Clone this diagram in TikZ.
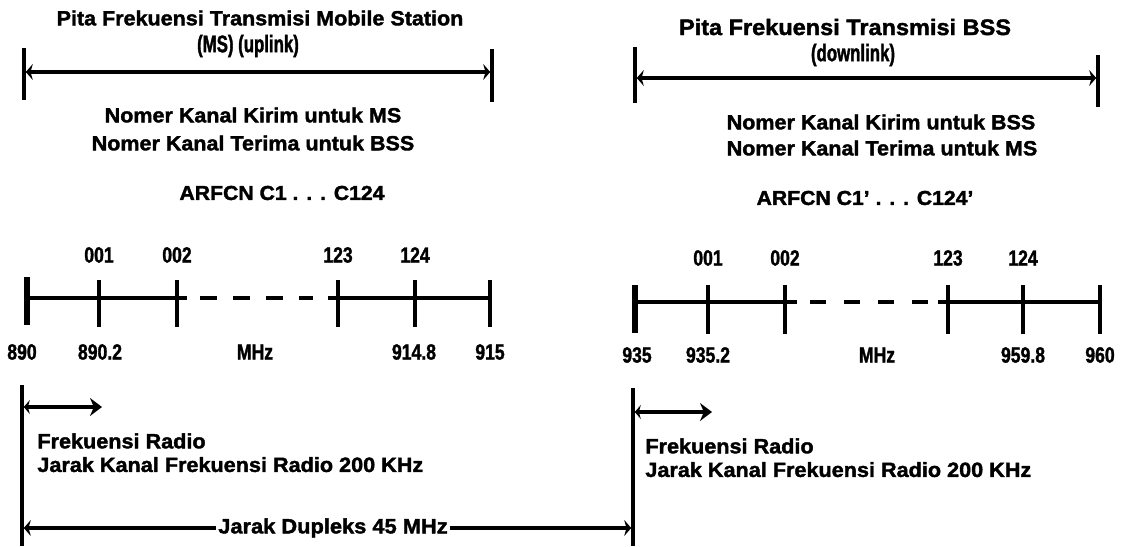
\documentclass[tikz,border=0pt]{standalone}
\usepackage{fontspec}
\setmainfont{Liberation Sans}[FakeStretch=0.8, FakeBold=1.4]
\newfontfamily\wf{Liberation Sans}[FakeStretch=1.05, FakeBold=1.8]
\newfontfamily\nf{Liberation Sans}[FakeStretch=0.7, FakeBold=1.4]
\usetikzlibrary{arrows.meta}
\begin{document}
\begin{tikzpicture}[x=0.5pt,y=-0.5pt,
  txt/.style={font=\wf\bfseries\fontsize{10.25}{12}\selectfont, inner sep=0pt},
  ttl/.style={font=\wf\bfseries\fontsize{10.25}{12}\selectfont, inner sep=0pt},
  par/.style={font=\nf\bfseries\fontsize{12}{14}\selectfont, inner sep=0pt},
  bot/.style={font=\wf\bfseries\fontsize{10.3}{11.8}\selectfont, inner sep=0pt, align=left, anchor=north west},
  arf/.style={font=\wf\bfseries\fontsize{10.1}{12}\selectfont, inner sep=0pt},
  lbl/.style={font=\bfseries\fontsize{11}{13}\selectfont, inner sep=0pt},
  axis/.style={line width=2pt},
  tick/.style={line width=1.8pt},
  bigtick/.style={line width=3.2pt},
  bar/.style={line width=1.9pt},
  tipL/.style={{Stealth[length=3.5pt,width=8pt]}-{Stealth[length=3.5pt,width=8pt]}},
  dim/.style={line width=1.7pt, tipL, shorten <=0.9pt, shorten >=0.9pt},
  small/.style={line width=1.6pt, {Stealth[length=3pt,width=7pt]}-{Stealth[length=6pt,width=9pt]}, shorten <=0.9pt},
  ]
\useasboundingbox (0,0) rectangle (1122,546);

% ---------------- left (uplink) ----------------
\node[ttl] (t1) at (260,18) {Pita Frekuensi Transmisi Mobile Station};
\node[par] (t2) at (248,46) {(MS) (uplink)};
\coordinate (lbT) at (24,48);  \coordinate (lbB) at (24,100);
\coordinate (rbT) at (492,49); \coordinate (rbB) at (492,102);
\draw[bar] (lbT) -- (lbB);
\draw[bar] (rbT) -- (rbB);
\coordinate (la) at (24,72); \coordinate (ra) at (492,72);
\draw[dim] (la) -- (ra);
\node[txt] (n1) at (253,115) {Nomer Kanal Kirim untuk MS};
\node[txt] (n2) at (253,143) {Nomer Kanal Terima untuk BSS};
\node[arf] (ar1) at (282,193) {ARFCN C1 . . . C124};

% scale
\draw[axis] (27,298) -- (187,298);
\draw[axis] (328,298) -- (490,298);
\draw[axis, dash pattern=on 8.5pt off 8pt] (200,298) -- (313,298);
\draw[bigtick] (27,277) -- (27,325);
\foreach \x in {99,177,338,415,490} \draw[tick] (\x,280) -- (\x,327);
\node[lbl] (a1) at (99,255) {001};
\node[lbl] (a2) at (177,255) {002};
\node[lbl] (a3) at (338,255) {123};
\node[lbl] (a4) at (415,255) {124};
\node[lbl] (b1) at (22,352) {890};
\node[lbl] (b2) at (100,352) {890.2};
\node[lbl] (b3) at (255,352) {MHz};
\node[lbl] (b4) at (414,352) {914.8};
\node[lbl] (b5) at (490,352) {915};

% ---------------- right (downlink) ----------------
\node[ttl, font=\wf\bfseries\fontsize{11.2}{13}\selectfont] (t3) at (845,27) {Pita Frekuensi Transmisi BSS};
\node[par] (t4) at (853,55) {(downlink)};
\coordinate (lb2T) at (635,47);  \coordinate (lb2B) at (635,103);
\coordinate (rb2T) at (1098,55); \coordinate (rb2B) at (1098,107);
\draw[bar] (lb2T) -- (lb2B);
\draw[bar] (rb2T) -- (rb2B);
\coordinate (la2) at (635,78); \coordinate (ra2) at (1098,78);
\draw[dim] (la2) -- (ra2);
\node[txt] (n3) at (881,122) {Nomer Kanal Kirim untuk BSS};
\node[txt] (n4) at (882,148) {Nomer Kanal Terima untuk MS};
\node[arf] (ar2) at (865,198) {ARFCN C1’ . . . C124’};

% scale
\draw[axis] (635,302) -- (797,302);
\draw[axis] (938,302) -- (1100,302);
\draw[axis, dash pattern=on 8pt off 9pt] (810,302) -- (928,302);
\draw[bigtick] (635,285) -- (635,333);
\foreach \x in {708,785,948,1023,1100} \draw[tick] (\x,285) -- (\x,334);
\node[lbl] (c1) at (708,258) {001};
\node[lbl] (c2) at (785,258) {002};
\node[lbl] (c3) at (948,258) {123};
\node[lbl] (c4) at (1023,258) {124};
\node[lbl] (d1) at (637,355) {935};
\node[lbl] (d2) at (708,355) {935.2};
\node[lbl] (d3) at (877,355) {MHz};
\node[lbl] (d4) at (1023,355) {959.8};
\node[lbl] (d5) at (1100,355) {960};

% ---------------- bottom ----------------
\coordinate (v1T) at (22,385); \coordinate (v1B) at (22,546);
\coordinate (v2T) at (633,388); \coordinate (v2B) at (633,546);
\draw[bar] (v1T) -- (v1B);
\draw[bar] (v2T) -- (v2B);
\coordinate (s1a) at (22,407); \coordinate (s1b) at (102,407);
\draw[small] (s1a) -- (s1b);
\coordinate (s2a) at (633,412); \coordinate (s2b) at (712,412);
\draw[small] (s2a) -- (s2b);
\node[bot] (f1) at (37,433) {Frekuensi Radio\\Jarak Kanal Frekuensi Radio 200 KHz};
\node[bot] (f2) at (645,438) {Frekuensi Radio\\Jarak Kanal Frekuensi Radio 200 KHz};
\node[ttl, font=\wf\bfseries\fontsize{10.4}{12}\selectfont] (dup) at (333,528) {Jarak Dupleks 45 MHz};
\coordinate (da) at (22,528); \coordinate (db) at (633,528);
\draw[line width=1.6pt, {Stealth[length=3.5pt,width=8pt]}-, shorten <=0.9pt] (da) -- ([xshift=-1pt]dup.west);
\draw[line width=1.6pt, -{Stealth[length=3.5pt,width=8pt]}, shorten >=0.9pt] ([xshift=1pt]dup.east) -- (db);
\end{tikzpicture}
\end{document}
